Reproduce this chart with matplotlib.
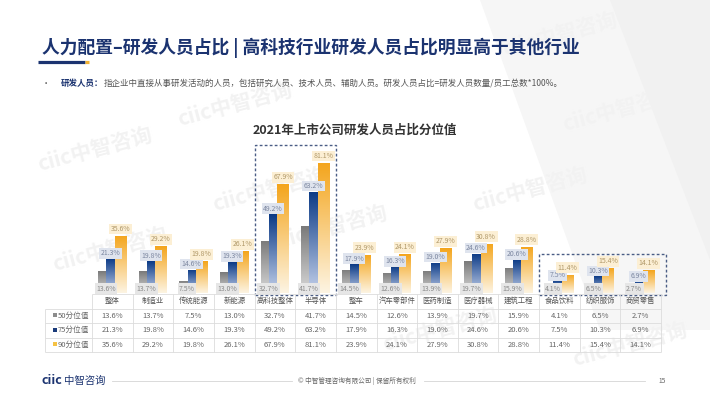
import numpy as np
import matplotlib
matplotlib.use('Agg')
import matplotlib.pyplot as plt
from matplotlib.patches import Rectangle, Polygon
from matplotlib.colors import LinearSegmentedColormap

plt.rcParams['font.family'] = ['Noto Sans CJK SC', 'DejaVu Sans']

'''_____Data_____'''
categories = ['整体', '制造业', '传统能源', '新能源', '高科技整体', '半导体', '整车',
              '汽车零部件', '医药制造', '医疗器械', '建筑工程', '食品饮料', '纺织服饰', '商贸零售']
p50 = [13.6, 13.7, 7.5, 13.0, 32.7, 41.7, 14.5, 12.6, 13.9, 19.7, 15.9, 4.1, 6.5, 2.7]
p75 = [21.3, 19.8, 14.6, 19.3, 49.2, 63.2, 17.9, 16.3, 19.0, 24.6, 20.6, 7.5, 10.3, 6.9]
p90 = [35.6, 29.2, 19.8, 26.1, 67.9, 81.1, 23.9, 24.1, 27.9, 30.8, 28.8, 11.4, 15.4, 14.1]
row_names = ['50分位值', '75分位值', '90分位值']
highlight_groups = [(4, 5, 92.3), (11, 13, 24.3)]   # first idx, last idx, box top

NAVY = '#1b3370'
W, H = 710, 399

def fx(px):
    return px / W

def fy(py):
    return 1 - py / H


fig = plt.figure(figsize=(7.1, 3.99), dpi=100)

# background + watermarks
bg = fig.add_axes([0, 0, 1, 1], zorder=-5)
bg.set_xlim(0, W)
bg.set_ylim(H, 0)
bg.axis('off')
bg.add_patch(Polygon([(480, 0), (710, 0), (710, 330), (600, 330)], closed=True,
                     fc='#f6f6f6', ec='none'))
bg.add_patch(Polygon([(610, 0), (710, 0), (710, 260)], closed=True, fc='#f1f1f1', ec='none'))
for (wx, wy) in [(95, 150), (235, 105), (330, 228), (270, 190), (530, 190), (620, 110),
                 (560, 35), (110, 250), (440, 330), (630, 345)]:
    bg.text(wx, wy, 'ciic中智咨询', fontsize=15, color='#f2f2f2', rotation=15,
            ha='center', va='center', fontweight='bold')

# title
bg.text(42, 48, '人力配置–研发人员占比 | 高科技行业研发人员占比明显高于其他行业',
        fontsize=12.8, fontweight='bold', color=NAVY, ha='left', va='center')
bg.plot([38, 85], [61.5, 61.5], color=NAVY, lw=2.3, solid_capstyle='butt')
bg.plot([85, 89], [61.5, 61.5], color='#f2b233', lw=2.3, solid_capstyle='butt')

bg.text(46, 83, '•', fontsize=6, color='#555555', ha='center', va='center')
t1 = bg.text(61, 83, '研发人员：', fontsize=6.1, fontweight='bold', color=NAVY,
             ha='left', va='center')
bg.annotate('指企业中直接从事研发活动的人员，包括研究人员、技术人员、辅助人员。研发人员占比=研发人员数量/员工总数*100%。',
            xy=(1, 0.5), xycoords=t1, ha='left', va='center', fontsize=6.1, color='#555555')

# chart title
bg.text(355, 130, '2021年上市公司研发人员占比分位值', fontsize=9.0, fontweight='bold',
        color='#333333', ha='center', va='center')

# footer
bg.text(42, 381, 'ciic', fontsize=9, fontweight='bold', color=NAVY, ha='left', va='center')
bg.text(64, 381, '中智咨询', fontsize=7.5, color=NAVY, ha='left', va='center')
bg.plot([112, 292], [381, 381], color='#d5d5d5', lw=0.6)
bg.plot([424, 645], [381, 381], color='#d5d5d5', lw=0.6)
bg.text(357, 381, '© 中智管理咨询有限公司 | 保留所有权利', fontsize=4.8, color='#666666',
        ha='center', va='center')
bg.text(662, 381, '15', fontsize=4.8, color='#666666', ha='center', va='center')

'''_____Bars_____'''
ax = fig.add_axes([fx(92), fy(293), fx(661) - fx(92), 153 / H])
ax.patch.set_alpha(0)
x = np.arange(len(categories))


def grad_fill(ax, bars, top, bottom):
    cmap = LinearSegmentedColormap.from_list('g', [bottom, top])
    grad = np.linspace(0, 1, 100).reshape(-1, 1)
    for b in bars:
        x0, w, h = b.get_x(), b.get_width(), b.get_height()
        im = ax.imshow(grad, cmap=cmap, origin='lower', aspect='auto',
                       extent=[x0, x0 + w, 0, h], zorder=2, interpolation='bilinear')
        im.set_clip_path(b)
        b.set_facecolor((0, 0, 0, 0))


b50 = ax.bar(x - 0.35, p50, width=0.20, align='edge', zorder=2, lw=0)
b75 = ax.bar(x - 0.15, p75, width=0.21, align='edge', zorder=2, lw=0)
b90 = ax.bar(x + 0.06, p90, width=0.29, align='edge', zorder=2, lw=0)
grad_fill(ax, b50, '#7a7a7a', '#d8d8d8')
grad_fill(ax, b75, '#0b3a86', '#c3d0ea')
grad_fill(ax, b90, '#f4a51c', '#fdf4e2')

for i in range(len(categories)):
    ax.annotate(f'{p50[i]:.1f}%', (x[i] - 0.16, 2.8), ha='center', va='center',
                fontsize=5, color='#8a8a8a', zorder=6,
                bbox=dict(boxstyle='square,pad=0.2', fc='#e6e6e6', ec='none'))
    ax.annotate(f'{p75[i]:.1f}%', (x[i] - 0.05, p75[i]), xytext=(0, 4),
                textcoords='offset points', ha='center', va='center',
                fontsize=5, color='#7c87a0', zorder=6,
                bbox=dict(boxstyle='square,pad=0.2', fc='#dfe4ee', ec='none'))
    ax.annotate(f'{p90[i]:.1f}%', (x[i] + 0.2, p90[i]), xytext=(0, 5),
                textcoords='offset points', ha='center', va='center',
                fontsize=5, color='#b09868', zorder=6,
                bbox=dict(boxstyle='square,pad=0.2', fc='#fcefd4', ec='none'))

for i0, i1, top in highlight_groups:
    x_right = i1 + 0.5 + (0.12 if i1 == len(categories) - 1 else 0)
    ax.add_patch(Rectangle((i0 - 0.5, -1.5), x_right - (i0 - 0.5), top + 1.5,
                           fill=False, ec='#4a5d85', lw=1.0, ls=(0, (2, 1.6)),
                           clip_on=False, zorder=7))

ax.set_xlim(-0.5, len(categories) - 0.5)
ax.set_ylim(0, 95.4)
ax.axis('off')

'''_____Table_____'''
col_w = (661 - 92) / len(categories)
x_left = -0.5 - (92 - 45) / col_w
tax = fig.add_axes([fx(45), fy(352), fx(661) - fx(45), (352 - 294) / H])
tax.patch.set_alpha(0)
tax.set_xlim(x_left, len(categories) - 0.5)
tax.set_ylim(4, 0)
tax.axis('off')

grid_c = '#dcdcdc'
tax.hlines(0, -0.5, len(categories) - 0.5, color=grid_c, lw=0.6, clip_on=False)
tax.hlines([1, 2, 3, 4], x_left, len(categories) - 0.5, color=grid_c, lw=0.6, clip_on=False)
tax.vlines(np.arange(len(categories) + 1) - 0.5, 0, 4, color=grid_c, lw=0.6, clip_on=False)
tax.vlines(x_left, 1, 4, color=grid_c, lw=0.6, clip_on=False)

for i, c in enumerate(categories):
    tax.text(i, 0.5, c, ha='center', va='center', fontsize=5.3, color='#555555')

marker_colors = ['#8c8c8c', '#1a3b7a', '#f5c244']
for r, (name, vals) in enumerate(zip(row_names, [p50, p75, p90])):
    tax.scatter([x_left + 0.25], [r + 1.45], marker='s', s=7, color=marker_colors[r],
                lw=0, clip_on=False)
    tax.text(x_left + 0.31, r + 1.5, name, ha='left', va='center', fontsize=5.5,
             color='#666666')
    for i, v in enumerate(vals):
        tax.text(i, r + 1.5, f'{v:.1f}%', ha='center', va='center', fontsize=5.5,
                 color='#666666')

fig.savefig('out.png', dpi=100)
